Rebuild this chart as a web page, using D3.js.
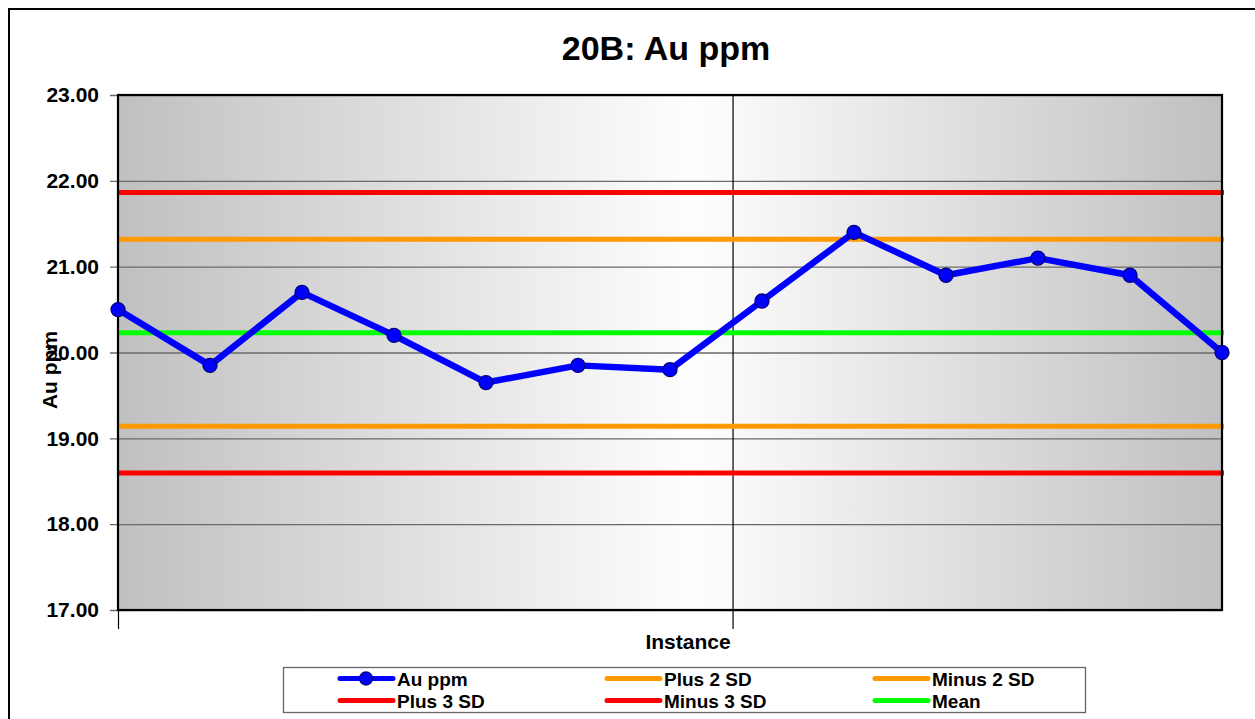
<!DOCTYPE html>
<html>
<head>
<meta charset="utf-8">
<script src="https://cdn.jsdelivr.net/npm/d3@7"></script>
<style>
  html, body { margin: 0; padding: 0; background: #fff; }
  svg { display: block; font-family: "Liberation Sans", Arial, sans-serif; }
</style>
</head>
<body>
<script>
// Au ppm control chart data
const instances = [1, 2, 3, 4, 5, 6, 7, 8, 9, 10, 11, 12, 13];
const auPpm = [20.5, 19.85, 20.7, 20.2, 19.65, 19.85, 19.8, 20.6, 21.4, 20.9, 21.1, 20.9, 20.0];
const meanValue = 20.23;
const plus2SD = 21.32;
const minus2SD = 19.14;
const plus3SD = 21.865;
const minus3SD = 18.595;
const yTicks = [17, 18, 19, 20, 21, 22, 23];
const xAxisTicks = [1, 7.68];

const W = 1255, H = 719;
const margin = { left: 118, right: 33, top: 95, bottom: 109 };
const pw = W - margin.left - margin.right;
const ph = H - margin.top - margin.bottom;

const svg = d3.select("body").append("svg").attr("width", W).attr("height", H);

// chart area border
svg.append("rect").attr("x", 9).attr("y", 9).attr("width", W + 20).attr("height", H + 20)
  .attr("fill", "#fff").attr("stroke", "#000").attr("stroke-width", 2);

const defs = svg.append("defs");
const grad = defs.append("linearGradient").attr("id", "plotBg")
  .attr("x1", "0%").attr("x2", "100%").attr("y1", "0%").attr("y2", "0%");
grad.append("stop").attr("offset", "0%").attr("stop-color", "#c0c0c0");
grad.append("stop").attr("offset", "52%").attr("stop-color", "#fefefe");
grad.append("stop").attr("offset", "100%").attr("stop-color", "#c0c0c0");

const x = d3.scaleLinear().domain([1, 13]).range([0, pw]);
const y = d3.scaleLinear().domain([17, 23]).range([ph, 0]);

const g = svg.append("g").attr("transform", `translate(${margin.left},${margin.top})`);

g.append("rect").attr("width", pw).attr("height", ph).attr("fill", "url(#plotBg)");

// horizontal gridlines with outside tick marks
const yAxis = d3.axisLeft(y).tickValues(yTicks).tickSize(-pw).tickSizeOuter(0)
  .tickFormat(d3.format(".2f"));
const yg = g.append("g").call(yAxis);
yg.select(".domain").remove();
yg.selectAll(".tick line").attr("stroke", "#6a6a6a").attr("stroke-width", 1.3).attr("x1", -8);
yg.selectAll(".tick text").attr("x", -19).attr("font-size", 21).attr("font-weight", "bold")
  .attr("fill", "#000").attr("font-family", "Liberation Sans, Arial, sans-serif");

// category axis ticks (cross the plot and extend below)
const xAxis = d3.axisBottom(x).tickValues(xAxisTicks).tickSize(19).tickFormat("");
const xg = g.append("g").attr("transform", `translate(0,${ph})`).call(xAxis);
xg.select(".domain").remove();
xg.selectAll(".tick line").attr("stroke", "#000").attr("stroke-width", 1.2)
  .attr("y1", (d) => d === xAxisTicks[0] ? 0 : -ph);

// control limit lines
const limits = [
  { v: plus3SD, c: "#ff0000" },
  { v: minus3SD, c: "#ff0000" },
  { v: plus2SD, c: "#ff9900" },
  { v: minus2SD, c: "#ff9900" },
  { v: meanValue, c: "#00ff00" }
];
g.selectAll(".limit").data(limits).enter().append("line")
  .attr("x1", 0).attr("x2", pw + 2)
  .attr("y1", (d) => y(d.v)).attr("y2", (d) => y(d.v))
  .attr("stroke", (d) => d.c).attr("stroke-width", 5);

// plot frame
g.append("rect").attr("width", pw).attr("height", ph).attr("fill", "none")
  .attr("stroke", "#000").attr("stroke-width", 2.2);

// Au ppm series
const pts = instances.map((d, i) => ({ x: d, y: auPpm[i] }));
g.append("path").datum(pts)
  .attr("d", d3.line().x((d) => x(d.x)).y((d) => y(d.y)))
  .attr("fill", "none").attr("stroke", "#0000ff").attr("stroke-width", 6.5)
  .attr("stroke-linejoin", "round");
g.selectAll(".pt").data(pts).enter().append("circle")
  .attr("cx", (d) => x(d.x)).attr("cy", (d) => y(d.y)).attr("r", 7)
  .attr("fill", "#0000ff").attr("stroke", "#000080").attr("stroke-width", 1.3);

// titles
svg.append("text").attr("x", 666).attr("y", 60).attr("text-anchor", "middle")
  .attr("font-size", 34).attr("font-weight", "bold").text("20B: Au ppm");
svg.append("text").attr("x", 688).attr("y", 649).attr("text-anchor", "middle")
  .attr("font-size", 21).attr("font-weight", "bold").text("Instance");
svg.append("text").attr("transform", "translate(57,370) rotate(-90)").attr("text-anchor", "middle")
  .attr("font-size", 21).attr("font-weight", "bold").text("Au ppm");

// legend
const legendItems = [
  { name: "Au ppm", c: "#0000ff", marker: true },
  { name: "Plus 2 SD", c: "#ff9900" },
  { name: "Minus 2 SD", c: "#ff9900" },
  { name: "Plus 3 SD", c: "#ff0000" },
  { name: "Minus 3 SD", c: "#ff0000" },
  { name: "Mean", c: "#00ff00" }
];
const lg = svg.append("g").attr("transform", "translate(283,667)");
lg.append("rect").attr("x", 0.5).attr("y", 0.5).attr("width", 802).attr("height", 45)
  .attr("fill", "#fff").attr("stroke", "#666").attr("stroke-width", 1.3);
const colX = [55, 322, 590];
const rowY = [11.5, 33.5];
const items = lg.selectAll(".item").data(legendItems).enter().append("g")
  .attr("transform", (d, i) => `translate(${colX[i % 3]},${rowY[Math.floor(i / 3)]})`);
items.append("line").attr("x1", 2).attr("x2", 55).attr("stroke", (d) => d.c)
  .attr("stroke-width", 5).attr("stroke-linecap", "round");
items.filter((d) => d.marker).append("circle").attr("cx", 28).attr("r", 6.5)
  .attr("fill", "#0000ff").attr("stroke", "#000080").attr("stroke-width", 1.3);
items.append("text").attr("x", 59).attr("y", 7).attr("font-size", 19).attr("font-weight", "bold")
  .text((d) => d.name);
</script>
</body>
</html>
